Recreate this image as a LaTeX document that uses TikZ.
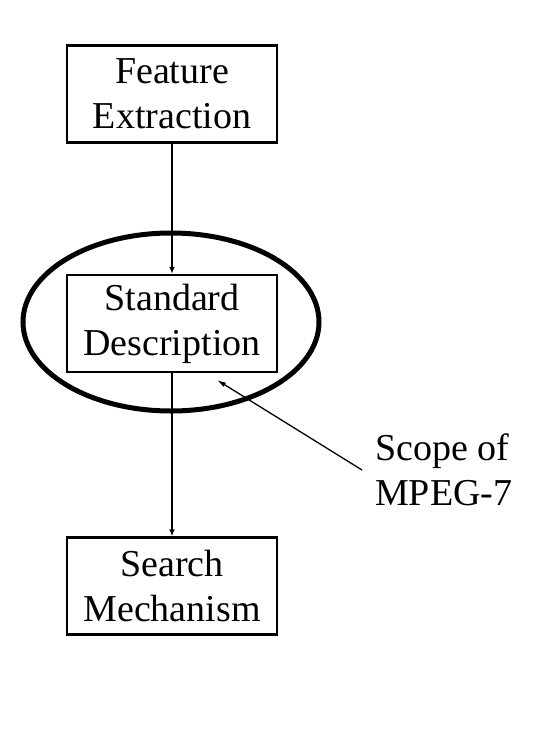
\documentclass[tikz,border=0pt]{standalone}
\usepackage{fontspec}
\setmainfont{Liberation Serif}
\usetikzlibrary{positioning, shapes.geometric, arrows.meta}

\begin{document}
\begin{tikzpicture}[x=1pt, y=1pt,
    stage/.style={draw, line width=2.5pt, minimum width=210pt, minimum height=97pt, align=center, inner sep=0pt},
    flow/.style={line width=2pt, -{Latex[length=7pt, width=6pt]}},
    font=\fontsize{38}{45}\selectfont]
    \useasboundingbox (0,0) rectangle (542,-731);

    \node[stage] (feat) at (172,-94) {Feature\\Extraction};
    \node[stage, below=130pt of feat] (desc) {Standard\\Description};
    \node[stage, below=163pt of desc] (search) {Search\\Mechanism};
    \foreach \a/\b in {feat/desc, desc/search}
        \draw[flow] (\a) -- (\b);

    % scope ring and its label
    \node[draw, ellipse, line width=5pt, minimum width=296pt, minimum height=178pt] (scope) at (171,-322) {};
    \coordinate (tip) at (217,-380);
    \node[anchor=west, align=left, inner sep=13pt] (mpeg) at (362,-470) {Scope of\\MPEG-7};
    \draw[line width=1.3pt, -{Latex[length=9pt, width=5pt]}] (mpeg.west) -- (tip);
\end{tikzpicture}
\end{document}
